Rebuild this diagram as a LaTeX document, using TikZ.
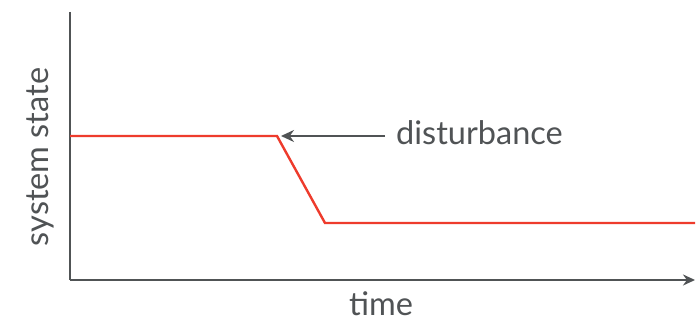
\documentclass[tikz,border=0pt]{standalone}
\usepackage{fontspec}
\setmainfont{Lato}
\usetikzlibrary{arrows.meta}
\definecolor{axisgray}{HTML}{505355}
\definecolor{curvered}{HTML}{EE3B2C}
\begin{document}
\begin{tikzpicture}[x=1pt,y=1pt,
  axis/.style={draw=axisgray,line width=2.2pt},
  curve/.style={draw=curvered,line width=2.4pt,line join=miter},
  lbl/.style={text=axisgray,font=\fontsize{32.5}{36}\selectfont,inner sep=0pt}]
\useasboundingbox[fill=white] (0,0) rectangle (700,323);
\coordinate (top) at (70,311);
\coordinate (origin) at (70,43);
\coordinate (xend) at (695,43);
\draw[axis] (top) -- (origin);
\draw[axis,-{Stealth[length=12pt,width=11pt]}] (origin) -- (xend);
\coordinate (c0) at (70,187);
\coordinate (c1) at (277,187);
\coordinate (c2) at (325,100);
\coordinate (c3) at (695,100);
\draw[curve] (c0) -- (c1) -- (c2) -- (c3);
\node[lbl,anchor=west] (dist) at (396,190) {disturbance};
\coordinate (atip) at (281,187);
\draw[draw=axisgray,line width=1.8pt,-{Stealth[length=13pt,width=12pt]}] (385,187) -- (atip);
\node[lbl] (time) at (381,19) {time};
\node[lbl,rotate=90] (state) at (40,166) {system state};
\end{tikzpicture}
\end{document}
